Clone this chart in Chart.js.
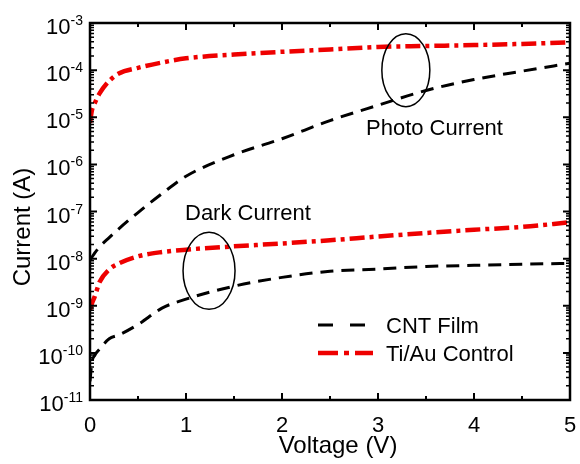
<!DOCTYPE html>
<html>
<head>
<meta charset="utf-8">
<script src="https://cdn.jsdelivr.net/npm/chart.js@4"></script>
<style>
  body { margin: 0; background: #fff; }
</style>
</head>
<body>
<canvas id="grafico" width="580" height="464"></canvas>
<script>
// voltage points shared by all four curves (V)
var voltagem = [0, 0.02, 0.05, 0.1, 0.2, 0.3, 0.5, 0.75, 1, 1.5, 2, 2.5, 3, 3.5, 4, 4.5, 5]

// currents (A)
var cntFoto = [9.3e-9, 1.07e-8, 1.32e-8, 1.78e-8, 2.8e-8, 4.3e-8, 9.5e-8, 2.4e-7, 5.6e-7, 1.6e-6, 3.5e-6, 8.5e-6, 1.8e-5, 3.7e-5, 6.3e-5, 9.5e-5, 1.4e-4]
var tiAuFoto = [7.6e-6, 1.4e-5, 2.0e-5, 3.2e-5, 5.9e-5, 8.5e-5, 1.12e-4, 1.45e-4, 1.78e-4, 2.14e-4, 2.45e-4, 2.75e-4, 3.1e-4, 3.25e-4, 3.4e-4, 3.6e-4, 3.9e-4]
var tiAuEscuro = [8.1e-10, 1.12e-9, 1.58e-9, 3.2e-9, 5.9e-9, 7.9e-9, 1.12e-8, 1.38e-8, 1.55e-8, 1.82e-8, 2.1e-8, 2.45e-8, 2.95e-8, 3.5e-8, 4.1e-8, 4.7e-8, 5.9e-8]
var cntEscuro = [2.5e-11, 6.3e-11, 8.9e-11, 1.2e-10, 2.0e-10, 2.4e-10, 4.0e-10, 8.9e-10, 1.38e-9, 2.6e-9, 4.0e-9, 5.4e-9, 6.0e-9, 6.8e-9, 7.2e-9, 7.6e-9, 7.9e-9]

var nomesSeries = ['CNT Film', 'Ti/Au Control']
var ticksX = ['0', '1', '2', '3', '4', '5']
var expoentesY = [-11, -10, -9, -8, -7, -6, -5, -4, -3]

var FONTE = 'Liberation Sans, Arial, sans-serif'
var TRACO_PRETO = [13, 8]
var TRACO_VERMELHO = [15, 5, 4, 5]

function pontos(valores) {
  return voltagem.map(function (v, i) { return { x: v, y: valores[i] } })
}

function serie(valores, cor, largura, traco) {
  return {
    data: pontos(valores),
    borderColor: cor,
    borderWidth: largura,
    borderDash: traco,
    pointRadius: 0,
    fill: false,
    cubicInterpolationMode: 'monotone'
  }
}

var eixos = {
  id: 'eixos',
  afterDraw: function (chart) {
    var ctx = chart.ctx
    var a = chart.chartArea
    var x = chart.scales.x
    var y = chart.scales.y
    ctx.save()
    ctx.setLineDash([])
    ctx.strokeStyle = '#000'
    ctx.fillStyle = '#000'

    // ellipses
    ctx.lineWidth = 1.5
    function elipse(cx, cy, rx, ry) {
      ctx.beginPath()
      ctx.ellipse(cx, cy, rx, ry, 0, 0, Math.PI * 2)
      ctx.stroke()
    }
    elipse(x.getPixelForValue(3.29), y.getPixelForValue(1e-4), 24, 36.5)
    elipse(x.getPixelForValue(1.24), y.getPixelForValue(5.5e-9), 26, 38.5)

    // frame
    ctx.lineWidth = 2.5
    ctx.strokeRect(a.left, a.top, a.right - a.left, a.bottom - a.top)

    // x ticks, inward, top and bottom
    for (var v = 0; v <= 5; v += 0.5) {
      var px = x.getPixelForValue(v)
      var len = (v % 1 === 0) ? 7 : 4
      ctx.lineWidth = 2
      ctx.beginPath()
      ctx.moveTo(px, a.bottom); ctx.lineTo(px, a.bottom - len)
      ctx.moveTo(px, a.top); ctx.lineTo(px, a.top + len)
      ctx.stroke()
    }

    // y ticks, inward, left and right
    expoentesY.forEach(function (e) {
      var py = y.getPixelForValue(Math.pow(10, e))
      ctx.lineWidth = 2
      ctx.beginPath()
      ctx.moveTo(a.left, py); ctx.lineTo(a.left + 7, py)
      ctx.moveTo(a.right, py); ctx.lineTo(a.right - 7, py)
      ctx.stroke()
      if (e < -3) {
        ctx.lineWidth = 1.5
        for (var m = 2; m <= 9; m++) {
          var pm = y.getPixelForValue(m * Math.pow(10, e))
          ctx.beginPath()
          ctx.moveTo(a.left, pm); ctx.lineTo(a.left + 4, pm)
          ctx.moveTo(a.right, pm); ctx.lineTo(a.right - 4, pm)
          ctx.stroke()
        }
      }
    })

    // x tick labels
    ctx.font = '22px ' + FONTE
    ctx.textAlign = 'center'
    ctx.textBaseline = 'alphabetic'
    ticksX.forEach(function (t, i) {
      ctx.fillText(t, x.getPixelForValue(i), a.bottom + 32)
    })

    // y tick labels 10^e
    expoentesY.forEach(function (e) {
      var py = y.getPixelForValue(Math.pow(10, e))
      var sup = String(e)
      ctx.font = '14px ' + FONTE
      var supW = ctx.measureText(sup).width
      var supX = a.left - 7 - supW
      ctx.textAlign = 'left'
      ctx.fillText(sup, supX, py + 2)
      ctx.font = '22px ' + FONTE
      ctx.textAlign = 'right'
      ctx.fillText('10', supX, py + 11)
    })

    // axis titles
    ctx.font = '24px ' + FONTE
    ctx.textAlign = 'center'
    ctx.fillText('Voltage (V)', 338, 453)
    ctx.save()
    ctx.translate(30, 227)
    ctx.rotate(-Math.PI / 2)
    ctx.fillText('Current (A)', 0, 0)
    ctx.restore()

    // annotation texts
    ctx.font = '22px ' + FONTE
    ctx.textAlign = 'left'
    ctx.fillText('Photo Current', 366, 135)
    ctx.fillText('Dark Current', 185, 220)

    // legend
    ctx.lineWidth = 3
    ctx.setLineDash([15, 17])
    ctx.beginPath(); ctx.moveTo(318, 325); ctx.lineTo(368, 325); ctx.stroke()
    ctx.strokeStyle = '#ee0000'
    ctx.lineWidth = 4.5
    ctx.setLineDash([20, 6, 5, 6])
    ctx.beginPath(); ctx.moveTo(318, 353); ctx.lineTo(373, 353); ctx.stroke()
    ctx.setLineDash([])
    ctx.fillText(nomesSeries[0], 386, 333)
    ctx.fillText(nomesSeries[1], 386, 361)

    ctx.restore()
  }
}

new Chart(document.getElementById('grafico'), {
  type: 'line',
  data: {
    datasets: [
      serie(cntFoto, '#000000', 3, TRACO_PRETO),
      serie(cntEscuro, '#000000', 3, TRACO_PRETO),
      serie(tiAuFoto, '#ee0000', 4.5, TRACO_VERMELHO),
      serie(tiAuEscuro, '#ee0000', 4.5, TRACO_VERMELHO)
    ]
  },
  options: {
    responsive: false,
    animation: false,
    devicePixelRatio: 1,
    layout: { padding: { left: 90, right: 10, top: 23, bottom: 64 } },
    scales: {
      x: { type: 'linear', min: 0, max: 5, display: false },
      y: { type: 'logarithmic', min: 1e-11, max: 1e-3, display: false }
    },
    plugins: { legend: { display: false }, tooltip: { enabled: false } }
  },
  plugins: [eixos]
});
</script>
</body>
</html>
